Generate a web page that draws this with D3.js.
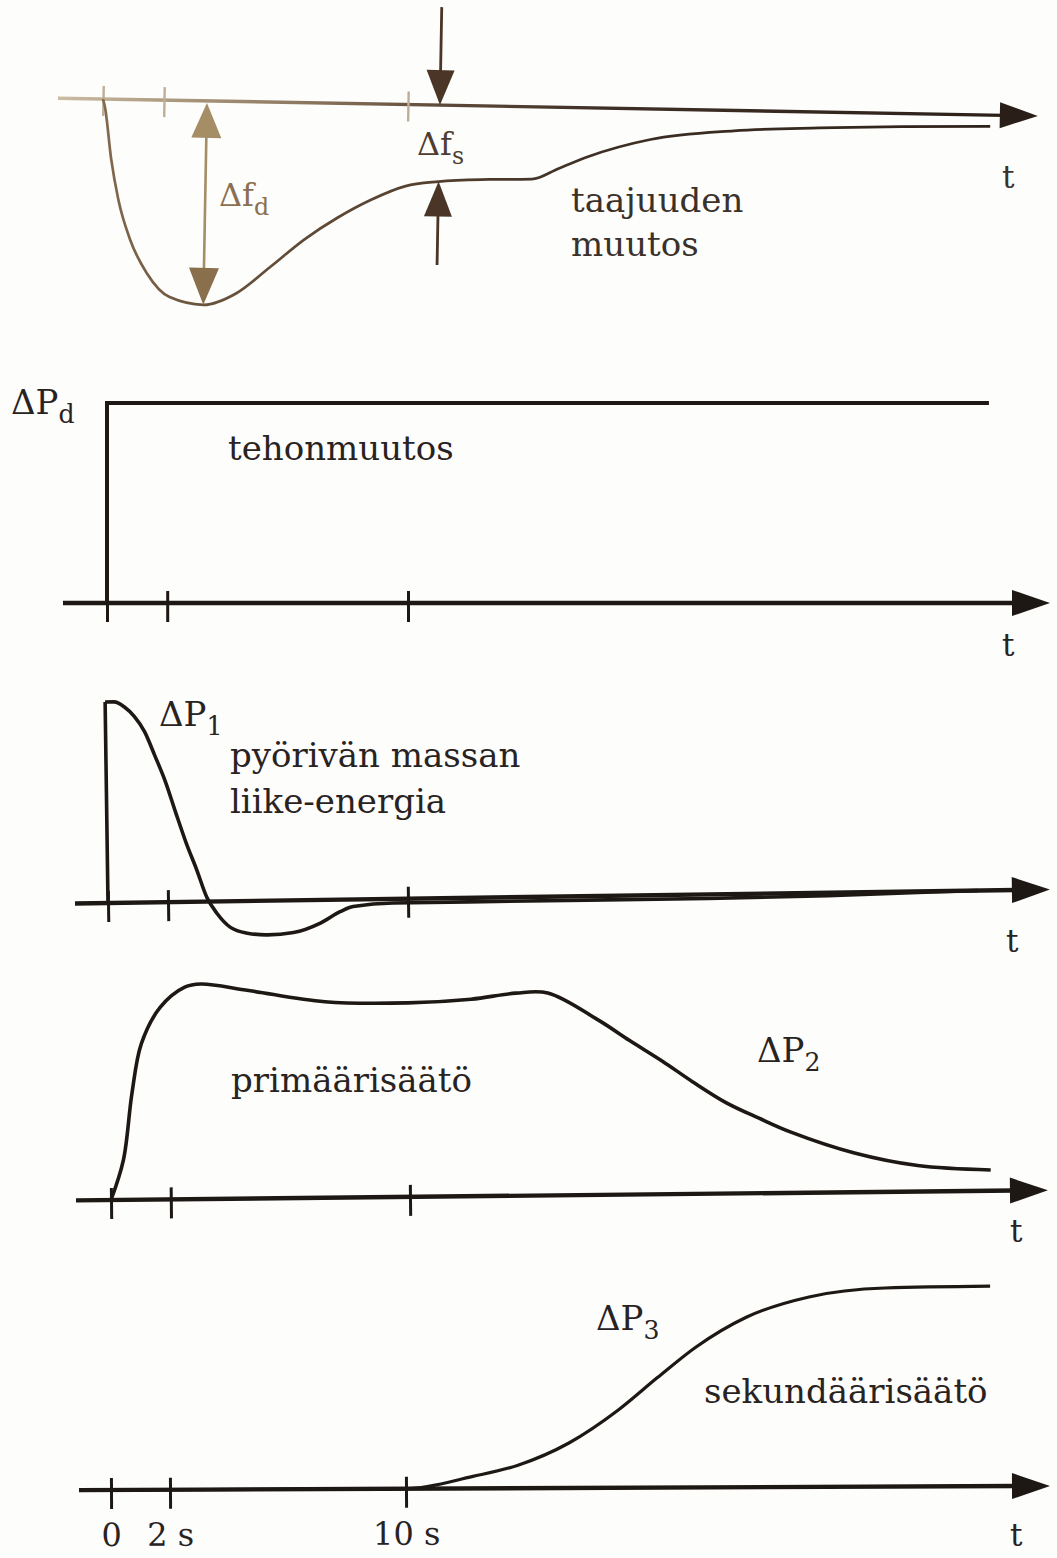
<!DOCTYPE html>
<html>
<head>
<meta charset="utf-8">
<script src="https://cdn.jsdelivr.net/npm/d3@7"></script>
<style>
  html, body { margin: 0; padding: 0; background: #fdfdfc; }
  svg { display: block; }
  text { font-family: "DejaVu Serif", "Liberation Serif", serif; }
</style>
</head>
<body>
<svg id="chart" width="1057" height="1558"></svg>
<script>
// ---- time axis (seconds) ----
const tickValues = [0, 2, 10];
const tickLabels = ["0", "2 s", "10 s"];

// ---- frequency deviation, relative to the deepest dip Δf_d ----
const freqTime = [0, 0.07, 0.3, 0.56, 0.98, 1.54, 2.3, 3.41, 4.49, 5.57, 6.69, 7.77, 8.85, 9.97, 11.05, 12.69, 14.1, 14.98, 15.93, 17.97, 20.7, 23.5, 26.2, 29.1];
const freqDev  = [0, -0.04, -0.29, -0.49, -0.69, -0.85, -0.965, -1.0, -0.94, -0.81, -0.67, -0.56, -0.47, -0.40, -0.375, -0.36, -0.355, -0.30, -0.24, -0.15, -0.10, -0.078, -0.064, -0.055];
const settleTime = 11.05;   // where the remaining deviation Δf_s is marked

// ---- load step ΔP_d ----
const loadTime = [0, 0, 29.3];
const loadStep = [0, 1, 1];

// ---- ΔP1: kinetic energy of the rotating masses ----
const kinTime  = [0, 0, 0.3, 0.63, 0.97, 1.3, 1.63, 1.97, 2.3, 2.63, 2.97, 3.3, 3.63, 4.07, 4.63, 5.3, 6.17, 7.07, 7.73, 8.17, 9.5, 12, 16, 20, 24, 27, 29];
const kinPower = [0, 1.0, 1.0, 0.975, 0.925, 0.85, 0.73, 0.6, 0.445, 0.295, 0.16, 0.02, -0.06, -0.13, -0.16, -0.17, -0.16, -0.115, -0.06, -0.035, -0.02, -0.02, -0.02, -0.02, -0.015, -0.005, 0];

// ---- ΔP2: primary control ----
const primTime  = [0, 0.43, 0.74, 1.07, 1.71, 2.54, 3.08, 4.68, 7.22, 10, 12.11, 13.61, 14.68, 16.35, 17.4, 18.49, 19.5, 20.6, 21.7, 22.74, 24.88, 26.99, 29.43];
const primPower = [0, 0.2, 0.534, 0.78, 0.96, 1.06, 1.075, 1.04, 0.98, 0.97, 0.985, 1.013, 1.012, 0.875, 0.77, 0.665, 0.56, 0.455, 0.375, 0.305, 0.196, 0.13, 0.104];

// ---- ΔP3: secondary control ----
const secTime  = [0, 10, 12.27, 13.8, 15.53, 17.22, 18.54, 19.83, 21.56, 23.69, 26.27, 29.83];
const secPower = [0, 0, 0.06, 0.115, 0.225, 0.39, 0.55, 0.70, 0.85, 0.95, 0.993, 1.0];

// ---- annotation texts ----
const freqTexts = ["taajuuden", "muutos"];
const loadText = "tehonmuutos";
const kinTexts = ["pyörivän massan", "liike-energia"];
const primText = "primäärisäätö";
const secText = "sekundäärisäätö";
const timeSymbol = "t";

// ---------------------------------------------------------------
const svg = d3.select("#chart");
const defs = svg.append("defs");
const INK = "#1d1814";
const TEXT = "#29231f";

function gradient(id, x1, x2, stops) {
  const g = defs.append("linearGradient").attr("id", id)
    .attr("gradientUnits", "userSpaceOnUse")
    .attr("x1", x1).attr("x2", x2).attr("y1", 0).attr("y2", 0);
  stops.forEach(([o, c]) => g.append("stop").attr("offset", o).attr("stop-color", c));
}
// sepia print of the frequency panel: pale at the left, dark brown to the right
gradient("sepiaAxis", -45, 935, [[0, "#cbbca4"], [0.11, "#ad9b80"], [0.25, "#8c7860"], [0.39, "#5e4a3a"], [0.55, "#3f3026"], [1, "#2a1f18"]]);
gradient("sepiaCurve", 0, 890, [[0, "#836a4e"], [0.12, "#6a533c"], [0.33, "#574332"], [0.55, "#3f3025"], [1, "#2d221a"]]);

// panel placement on the page
const panels = [
  { key: "freq", x0: 103, x10: 408, y0: 99,   angle: 1.04,  from: 58, tip: 1038, height: 204, axisColor: "url(#sepiaAxis)", axisWidth: 3.4, tickUp: 13, tickDown: 17, tickWidth: 2.4 },
  { key: "load", x0: 107, x10: 408, y0: 603,  angle: 0,     from: 63, tip: 1050, height: 200, axisColor: INK, axisWidth: 4.4, tickUp: 12, tickDown: 19, tickWidth: 3 },
  { key: "kin",  x0: 108, x10: 408, y0: 903,  angle: -0.82, from: 75, tip: 1050, height: 201, axisColor: INK, axisWidth: 4.4, tickUp: 12, tickDown: 19, tickWidth: 3 },
  { key: "prim", x0: 111, x10: 410, y0: 1200, angle: -0.6,  from: 76, tip: 1048, height: 200, axisColor: INK, axisWidth: 4.4, tickUp: 12, tickDown: 19, tickWidth: 3 },
  { key: "sec",  x0: 111, x10: 406, y0: 1490, angle: -0.25, from: 79, tip: 1050, height: 200, axisColor: INK, axisWidth: 4.4, tickUp: 12, tickDown: 19, tickWidth: 3, labelled: true }
];

function frame(p) {
  const g = svg.append("g").attr("transform", `translate(${p.x0},${p.y0}) rotate(${p.angle})`);
  const x = d3.scaleLinear().domain([0, 10]).range([0, p.x10 - p.x0]);
  const head = 38;
  const xs = p.from - p.x0, xe = p.tip - p.x0;
  g.append("line").attr("x1", xs).attr("x2", xe - head + 4).attr("y1", 0).attr("y2", 0)
    .attr("stroke", p.axisColor).attr("stroke-width", p.axisWidth);
  g.append("path").attr("d", `M${xe},0L${xe - head},-13L${xe - head},13Z`)
    .attr("fill", p.key === "freq" ? "#2a1f18" : INK);

  const axis = d3.axisBottom(x).tickValues(tickValues).tickSize(p.tickDown)
    .tickFormat((d, i) => p.labelled ? tickLabels[i] : "");
  const ag = g.append("g").call(axis);
  ag.select(".domain").remove();
  ag.selectAll(".tick line").attr("y1", -p.tickUp)
    .attr("stroke", p.key === "freq" ? "url(#sepiaAxis)" : INK)
    .attr("stroke-width", p.tickWidth);
  ag.selectAll(".tick text")
    .attr("y", 56).attr("dy", null)
    .attr("font-family", '"DejaVu Serif", serif').attr("font-size", 32)
    .attr("fill", TEXT);
  return { g, x };
}

function drawSeries(g, x, y, time, vals, opts) {
  const pts = time.map((t, i) => [t, vals[i]]);
  const smooth = d3.line().x(d => x(d[0])).y(d => y(d[1]))
    .curve(opts.curve || d3.curveMonotoneX);
  const straight = d3.line().x(d => x(d[0])).y(d => y(d[1]));
  let path;
  if (opts.mode === "step") path = straight(pts);
  else if (opts.mode === "rise") path = straight(pts.slice(0, 2)) + smooth(pts.slice(1));
  else path = smooth(pts);
  g.append("path").attr("d", path).attr("fill", "none")
    .attr("stroke", opts.color).attr("stroke-width", opts.width)
    .attr("stroke-linejoin", opts.mode === "step" ? "miter" : "round")
    .attr("stroke-linecap", "butt");
}

// vertical arrow with a filled head, pointing from tailY towards tipY
function vArrow(g, xPos, tailY, tipY, color, width, headLen, headW) {
  const dir = tipY > tailY ? 1 : -1;
  g.append("line").attr("x1", xPos).attr("x2", xPos).attr("y1", tailY).attr("y2", tipY - dir * headLen * 0.8)
    .attr("stroke", color).attr("stroke-width", width);
  g.append("path").attr("d", `M${xPos},${tipY}L${xPos - headW / 2},${tipY - dir * headLen}L${xPos + headW / 2},${tipY - dir * headLen}Z`)
    .attr("fill", color);
}

// ---- panel 1: frequency ----
{
  const p = panels[0];
  const { g, x } = frame(p);
  const y = d3.scaleLinear().domain([-1, 0]).range([p.height, 0]);
  drawSeries(g, x, y, freqTime, freqDev, { color: "url(#sepiaCurve)", width: 2.7 });

  // Δf_d: from the axis down to the deepest point
  const iMin = freqDev.indexOf(d3.min(freqDev));
  const xm = x(freqTime[iMin]);
  const tan = "#a58d66";
  g.append("line").attr("x1", xm).attr("x2", xm).attr("y1", y(0) + 30).attr("y2", y(freqDev[iMin]) - 30)
    .attr("stroke", tan).attr("stroke-width", 2.6);
  g.append("path").attr("d", `M${xm},${y(0) + 2}L${xm - 15},${y(0) + 37}L${xm + 15},${y(0) + 37}Z`).attr("fill", tan);
  g.append("path").attr("d", `M${xm},${y(freqDev[iMin])}L${xm - 15},${y(freqDev[iMin]) - 37}L${xm + 15},${y(freqDev[iMin]) - 37}Z`).attr("fill", "#8a6f4c");

  // Δf_s: remaining deviation once primary control has acted
  const iS = freqTime.indexOf(settleTime);
  const xsPos = x(settleTime);
  const dark = "#4a3527";
  vArrow(g, xsPos, -98, y(0), dark, 2.8, 35, 28);
  vArrow(g, xsPos, 160, y(freqDev[iS]), dark, 2.8, 35, 28);
}

// ---- panel 2: load step ----
{
  const p = panels[1];
  const { g, x } = frame(p);
  const y = d3.scaleLinear().domain([0, 1]).range([0, -p.height]);
  drawSeries(g, x, y, loadTime, loadStep, { color: INK, width: 4, mode: "step" });
}

// ---- panel 3: ΔP1 ----
{
  const p = panels[2];
  const { g, x } = frame(p);
  const y = d3.scaleLinear().domain([0, 1]).range([0, -p.height]);
  drawSeries(g, x, y, kinTime, kinPower, { color: INK, width: 3.6, mode: "rise" });
}

// ---- panel 4: ΔP2 ----
{
  const p = panels[3];
  const { g, x } = frame(p);
  const y = d3.scaleLinear().domain([0, 1]).range([0, -p.height]);
  drawSeries(g, x, y, primTime, primPower, { color: INK, width: 3.6, curve: d3.curveCatmullRom.alpha(0.5) });
}

// ---- panel 5: ΔP3 ----
{
  const p = panels[4];
  const { g, x } = frame(p);
  const y = d3.scaleLinear().domain([0, 1]).range([0, -p.height]);
  drawSeries(g, x, y, secTime, secPower, { color: INK, width: 3.2 });
}

// ---- labels ----
function label(str, xPos, yPos, size, fill, sub) {
  const t = svg.append("text").attr("x", xPos).attr("y", yPos)
    .attr("font-size", size).attr("fill", fill || TEXT);
  t.append("tspan").text(str);
  if (sub) t.append("tspan").attr("dy", size * 0.27).attr("font-size", size * 0.74).text(sub);
  return t;
}

label("Δf", 219, 206, 32, "#8a6f50", "d");
label("Δf", 417, 155, 32, "#4e3e32", "s");
label(freqTexts[0], 571, 212, 34, "#3a312b");
label(freqTexts[1], 571, 256, 34, "#3a312b");
label(timeSymbol, 1002, 188, 31, "#3a312b");

label("ΔP", 11, 414, 34, TEXT, "d");
label(loadText, 228, 460, 34);
label(timeSymbol, 1002, 656, 31);

label("ΔP", 159, 726, 34, TEXT, "1");
label(kinTexts[0], 230, 767, 34);
label(kinTexts[1], 230, 813, 34);
label(timeSymbol, 1006, 952, 31);

label(primText, 231, 1092, 34);
label("ΔP", 757, 1062, 34, TEXT, "2");
label(timeSymbol, 1010, 1242, 31);

label("ΔP", 596, 1330, 34, TEXT, "3");
label(secText, 704, 1403, 34);
label(timeSymbol, 1010, 1546, 31);
</script>
</body>
</html>
